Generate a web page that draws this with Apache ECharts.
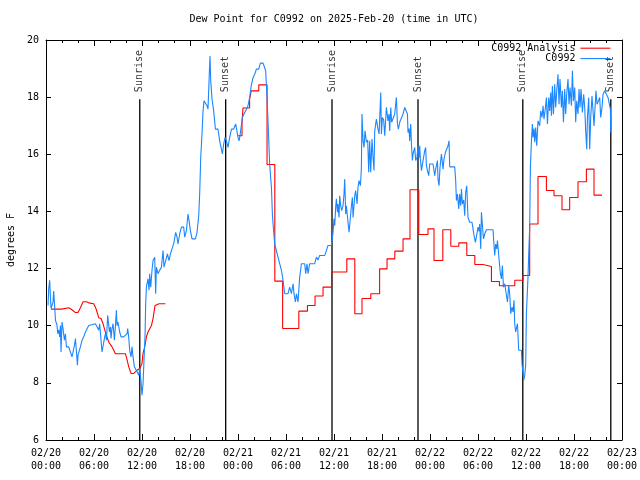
<!DOCTYPE html>
<html><head><meta charset="utf-8">
<script src="https://cdn.jsdelivr.net/npm/echarts@6/dist/echarts.min.js"></script>
<style>html,body{margin:0;padding:0;background:#fff}#c{width:640px;height:480px}</style>
</head><body><div id="c"></div>
<script>
const FONT = '"DejaVu Sans Mono", "Liberation Mono", monospace';
const titleText = 'Dew Point for C0992 on 2025-Feb-20 (time in UTC)';
const yName = 'degrees F';
const seriesNames = ['C0992 Analysis', 'C0992'];

// hours since 02/20 00:00 UTC, dew point (F) - observations
const obs0220 = [[0.25,10.71],[0.34,11.29],[0.46,11.59],[0.55,11.0],[0.63,10.6],[0.88,10.83],[0.96,11.21],[1.09,10.65],[1.18,10.19],[1.38,10.01],[1.46,9.72],[1.59,9.85],[1.71,9.61],[1.8,10.01],[1.88,9.08],[2.0,10.13],[2.13,9.9],[2.3,9.49],[2.43,9.72],[2.55,9.26],[2.84,9.26],[3.05,9.08],[3.25,8.91],[3.38,9.08],[3.59,9.37],[3.68,9.55],[3.88,9.55],[3.93,8.62],[4.0,8.97],[4.3,9.26],[4.5,9.49],[4.71,9.61],[4.93,9.78],[5.13,9.84],[5.34,10.01],[5.55,10.07],[6.18,10.07],[6.38,9.96],[6.59,9.84],[6.71,10.07],[6.88,10.07],[7.0,9.08],[7.21,9.08],[7.34,9.61],[7.46,9.75],[7.55,9.49],[7.71,10.36],[7.84,10.36],[7.93,9.78],[8.05,9.95],[8.13,9.55],[8.25,9.9],[8.38,10.07],[8.55,9.49],[8.68,10.0],[8.8,10.54],[8.88,10.0],[9.0,10.13],[9.21,9.78],[9.38,9.61],[9.71,9.61],[9.93,9.66],[10.13,9.72],[10.21,9.9],[10.34,9.6],[10.46,9.14],[10.63,8.91],[10.75,9.26],[10.88,8.91],[11.05,8.56],[11.21,8.5],[11.38,8.39],[11.5,8.44],[11.59,8.27],[11.71,8.5],[11.88,8.04],[12.0,7.57],[12.13,7.97],[12.25,8.79],[12.38,9.66],[12.46,10.77],[12.55,11.35],[12.75,11.64],[12.88,11.24],[12.96,11.82],[13.09,11.35],[13.25,11.94],[13.38,12.28],[13.59,12.4],[13.71,11.12],[13.8,12.05],[14.0,11.82],[14.21,11.94],[14.43,12.05],[14.63,12.63],[14.75,12.05],[14.96,12.28],[15.18,12.51],[15.38,12.28],[15.55,12.51],[15.75,12.69],[16.0,12.92],[16.21,13.27],[16.38,13.10],[16.5,12.86],[16.71,13.21],[16.93,13.45],[17.21,13.45],[17.34,13.10],[17.55,13.33],[17.75,13.91],[17.88,13.68],[18.05,13.33],[18.25,13.04],[18.68,13.04],[18.88,13.27],[19.09,13.85],[19.21,14.61],[19.34,15.89],[19.5,16.71],[19.63,17.52],[19.75,17.87],[19.96,17.87],[20.13,17.70],[20.25,17.58],[20.38,18.57],[20.5,19.44],[20.59,18.57],[20.75,17.93],[20.96,17.52],[21.18,16.88],[21.38,16.82],[21.5,16.88],[21.71,16.47],[21.88,16.24],[22.05,16.01],[22.21,16.36],[22.38,16.59],[22.55,16.47],[22.75,16.24],[22.96,16.59],[23.18,16.88],[23.46,16.88],[23.71,17.06],[23.84,17.0]];
const obs0221 = [[24.0,16.59],[24.13,16.47],[24.25,16.65],[24.43,16.71],[24.55,17.29],[24.75,17.41],[25.05,17.58],[25.25,17.70],[25.46,17.99],[25.68,18.45],[25.88,18.68],[26.09,18.80],[26.3,18.98],[26.59,18.98],[26.8,19.19],[27.13,19.19],[27.25,19.1],[27.46,18.92],[27.63,17.99],[27.8,16.82],[27.96,15.66],[28.05,15.31],[28.18,14.84],[28.3,13.91],[28.38,13.56],[28.59,12.86],[28.8,12.63],[29.0,12.40],[29.21,12.17],[29.43,11.94],[29.63,11.59],[29.84,11.12],[30.25,11.12],[30.46,11.35],[30.68,11.12],[30.88,11.47],[31.0,11.12],[31.18,10.83],[31.3,11.12],[31.5,10.83],[31.71,11.70],[31.93,12.17],[32.34,12.17],[32.46,11.82],[32.63,12.17],[32.75,11.82],[32.96,12.17],[33.59,12.17],[33.8,12.40],[34.0,12.3],[34.21,12.46],[34.84,12.46],[35.05,12.63],[35.25,12.81],[35.68,12.81],[35.88,13.27],[36.0,13.74],[36.09,13.5],[36.21,14.15],[36.3,14.44],[36.43,13.97],[36.5,14.26],[36.63,13.79],[36.71,14.55],[36.84,14.2],[36.96,14.03],[37.13,14.2],[37.25,14.61],[37.34,15.13],[37.46,13.91],[37.55,14.2],[37.75,13.62],[37.88,13.27],[38.05,13.27],[38.18,14.2],[38.3,14.49],[38.38,13.79],[38.5,14.2],[38.59,14.55],[38.71,14.73],[38.88,14.26],[39.0,14.84],[39.13,15.08],[39.3,14.9],[39.42,15.48],[39.5,17.41],[39.63,16.47],[39.75,16.24],[39.88,16.82],[40.05,16.42],[40.21,16.5],[40.34,15.37],[40.46,16.47],[40.59,15.37],[40.75,16.53],[40.88,15.89],[41.0,15.43],[41.09,16.82],[41.3,17.23],[41.46,16.94],[41.63,16.71],[41.71,17.23],[41.84,18.16],[41.93,16.71],[42.05,17.29],[42.21,17.2],[42.34,16.65],[42.55,17.64],[42.75,17.17],[42.88,17.41],[42.96,16.82],[43.09,17.64],[43.21,17.12],[43.38,17.12],[43.59,17.41],[43.8,17.99],[43.93,17.06],[44.05,16.88],[44.21,17.12],[44.43,17.12],[44.63,17.41],[44.84,17.64],[45.05,17.58],[45.18,17.41],[45.25,16.76],[45.38,16.9],[45.46,16.47],[45.59,17.06],[45.68,16.36],[45.8,15.78],[45.88,16.01],[46.09,16.24],[46.21,15.78],[46.38,15.9],[46.5,16.30],[46.63,15.89],[46.71,16.3],[46.8,15.83],[46.93,15.43],[47.13,15.78],[47.34,16.13],[47.46,16.24],[47.55,15.6],[47.68,15.43],[47.84,15.25],[47.96,15.66]];
const obs0222 = [[48.38,15.66],[48.5,15.43],[48.59,15.25],[48.71,15.48],[48.93,15.78],[49.0,15.13],[49.13,14.9],[49.25,15.54],[49.43,16.01],[49.55,15.7],[49.63,15.48],[49.75,15.83],[49.93,16.07],[50.18,16.07],[50.25,16.30],[50.38,16.47],[50.46,15.56],[51.09,15.56],[51.21,15.08],[51.3,14.38],[51.43,14.61],[51.59,14.09],[51.71,14.61],[51.84,14.2],[51.93,14.78],[52.05,14.26],[52.21,14.4],[52.34,13.85],[52.46,14.67],[52.59,14.9],[52.75,13.79],[52.96,13.62],[53.25,13.62],[53.38,13.39],[53.5,13.16],[53.68,12.92],[53.93,12.92],[54.0,13.45],[54.13,13.3],[54.21,13.56],[54.34,12.69],[54.43,13.97],[54.59,13.97],[54.68,13.04],[54.84,13.21],[55.05,13.36],[55.88,13.36],[55.96,12.98],[56.09,12.46],[56.21,12.86],[56.34,12.69],[56.43,12.98],[56.59,12.46],[56.68,12.17],[56.8,11.82],[56.93,11.64],[57.05,12.11],[57.18,11.35],[57.34,11.47],[57.55,11.41],[57.68,10.83],[57.84,11.41],[57.96,11.12],[58.09,10.42],[58.25,10.65],[58.38,10.48],[58.5,10.89],[58.59,10.07],[58.71,9.78],[58.93,10.07],[59.0,10.07],[59.09,9.14],[59.43,9.14],[59.5,8.67],[59.63,8.33],[59.71,8.09],[59.84,8.27],[59.96,8.62],[60.05,10.42],[60.18,10.48],[60.25,11.70],[60.34,12.51],[60.46,13.45],[60.55,15.54],[60.68,16.47],[60.8,17.06],[60.88,16.59],[61.0,16.9],[61.09,16.42],[61.21,16.94],[61.34,16.30],[61.5,17.17],[61.71,17.0],[61.84,17.52],[62.0,17.29],[62.13,17.70],[62.25,17.23],[62.43,17.64],[62.55,17.99],[62.68,17.06],[62.84,17.99],[62.96,17.52],[63.09,18.16],[63.18,17.35],[63.3,18.39],[63.43,17.4],[63.59,18.45],[63.71,17.64],[63.84,18.2],[64.0,18.80],[64.13,17.75],[64.25,18.63],[64.43,17.64],[64.55,18.22],[64.68,17.12],[64.84,18.28],[64.96,17.41],[65.09,18.1],[65.25,18.63],[65.38,17.75],[65.5,18.34],[65.68,17.70],[65.8,18.92],[65.93,17.87],[66.09,18.34],[66.21,17.12],[66.34,17.87],[66.5,17.41],[66.63,18.28],[66.75,17.64],[66.88,18.28],[67.05,17.46],[67.21,18.1],[67.34,17.64],[67.46,16.82],[67.59,16.18],[67.68,17.29],[67.84,17.99],[67.96,16.18],[68.09,17.3],[68.25,18.04],[68.38,17.52],[68.5,16.99],[68.63,17.64],[68.75,18.22],[68.88,17.75],[69.05,17.87],[69.21,17.99],[69.34,17.29],[69.5,17.64],[69.63,18.10],[69.84,18.22],[70.05,18.1],[70.25,17.99],[70.38,17.81],[70.55,17.58],[70.59,16.76],[70.63,17.3]];

// analysis (hourly model) - first run (smooth) and stepped run
const ana0220 = [[0.63,10.58],[2.0,10.58],[2.21,10.63],[2.84,10.63],[3.25,10.56],[3.68,10.46],[4.0,10.46],[4.3,10.63],[4.63,10.84],[5.05,10.84],[5.34,10.80],[5.96,10.77],[6.18,10.65],[6.38,10.48],[6.59,10.28],[6.88,10.25],[7.13,10.07],[7.3,9.90],[7.55,9.66],[7.84,9.43],[8.25,9.26],[8.68,9.02],[9.93,9.02],[10.13,8.81],[10.34,8.56],[10.63,8.33],[10.96,8.33],[11.38,8.44],[11.71,8.50],[12.0,8.68],[12.13,9.03],[12.34,9.26],[12.55,9.61],[12.75,9.78],[13.18,10.01],[13.38,10.25],[13.63,10.71],[14.13,10.77],[14.93,10.77]];
const ana0221 = [[24.0,16.65],[24.5,17.06],[24.62,17.62],[25.45,17.93],[25.65,18.22],[26.6,18.43],[27.63,15.64],[28.6,11.56],[29.58,9.9],[31.6,10.51],[32.68,10.71],[33.63,11.04],[34.63,11.35],[35.7,11.88],[37.6,12.34],[38.6,10.42],[39.5,10.95],[40.6,11.12],[41.7,11.99],[42.63,12.34],[43.6,12.61],[44.63,13.04],[45.5,14.76],[46.6,13.19],[47.75,13.39]];
const ana0222 = [[48.5,12.28],[49.6,13.36],[50.6,12.78],[51.6,12.90],[52.6,12.46],[53.6,12.14],[54.6,12.07],[55.68,11.55],[56.68,11.40],[58.6,11.59],[59.62,11.76],[60.46,13.56],[61.5,15.22],[62.55,14.73],[63.5,14.55],[64.5,14.06],[65.46,14.49],[66.5,15.04],[67.55,15.48],[68.5,14.57],[69.5,14.57]];

// sunrise / sunset markers (hours since 02/20 00:00)
const eventHours = [11.72, 22.46, 35.75, 46.5, 59.6, 70.6];
const eventNames = ['Sunrise', 'Sunset', 'Sunrise', 'Sunset', 'Sunrise', 'Sunset'];
const eventLow = 6, eventHigh = 17.93;

function fmtX(v) {
  const d = 20 + Math.floor(v / 24);
  const h = Math.round(v % 24);
  return '02/' + d + '\n' + String(h).padStart(2, '0') + ':00';
}

const chart = echarts.init(document.getElementById('c'), null, {renderer: 'canvas'});
const black = '#000';
const red = '#ff0000';
const blue = '#1a86ff';
const axisCommon = {
  axisLine: {show: true, onZero: false, lineStyle: {color: black, width: 1}},
  splitLine: {show: false}
};
const series = [];
eventHours.forEach((h) => {
  series.push({
    type: 'line', silent: true, symbol: 'none', showSymbol: false,
    data: [[h, eventLow], [h, eventHigh]],
    lineStyle: {color: black, width: 1.3}, z: 1
  });
});
series.push({
  type: 'scatter', silent: true, symbolSize: 0, z: 1,
  data: eventHours.map((h, i) => ({value: [h, eventHigh], name: eventNames[i]})),
  label: {show: true, formatter: '{b}', rotate: 90, position: 'top', distance: 7,
    align: 'left', verticalAlign: 'middle', color: black, fontFamily: FONT, fontSize: 10}
});
series.push({
  name: seriesNames[0], type: 'line', symbol: 'none', showSymbol: false, z: 3,
  data: ana0220, lineStyle: {color: red, width: 1.1}, itemStyle: {color: red}
});
series.push({
  name: seriesNames[0], type: 'line', step: 'end', symbol: 'none', showSymbol: false, z: 3,
  data: ana0221.concat(ana0222), lineStyle: {color: red, width: 1.1}, itemStyle: {color: red}
});
series.push({
  name: seriesNames[1], type: 'line', symbol: 'none', showSymbol: false, z: 4,
  data: obs0220.concat(obs0221, obs0222), lineStyle: {color: blue, width: 1.1}, itemStyle: {color: blue}
});

chart.setOption({
  animation: false,
  backgroundColor: '#fff',
  title: {text: titleText, left: 334, top: 14, textAlign: 'center', padding: 0,
    textStyle: {fontFamily: FONT, fontSize: 10, fontWeight: 'normal', color: black}},
  legend: {
    data: seriesNames, orient: 'vertical', right: 29, top: 43, padding: 0,
    align: 'right', itemWidth: 30, itemHeight: 13, itemGap: 0,
    itemStyle: {opacity: 0, borderWidth: 0},
    lineStyle: {width: 1.1},
    textStyle: {fontFamily: FONT, fontSize: 10, color: black, width: 86, align: 'right'}
  },
  grid: {left: 46, right: 18, top: 40, bottom: 40, containLabel: false, outerBoundsMode: 'none'},
  xAxis: [
    Object.assign({type: 'value', min: 0, max: 72, interval: 6, position: 'bottom',
      axisTick: {show: true, inside: true, length: 6, lineStyle: {color: black}},
      minorTick: {show: true, splitNumber: 3, length: 3, lineStyle: {color: black}},
      axisLabel: {formatter: fmtX, color: black, fontFamily: FONT, fontSize: 10, margin: 7, lineHeight: 13}
    }, axisCommon),
    Object.assign({type: 'value', min: 0, max: 72, interval: 6, position: 'top',
      axisTick: {show: true, inside: true, length: 6, lineStyle: {color: black}},
      minorTick: {show: true, splitNumber: 3, length: 3, lineStyle: {color: black}},
      axisLabel: {show: false}
    }, axisCommon)
  ],
  yAxis: [
    Object.assign({type: 'value', min: 6, max: 20, interval: 2, position: 'left',
      axisTick: {show: true, inside: true, length: 5, lineStyle: {color: black}},
      axisLabel: {color: black, fontFamily: FONT, fontSize: 10, margin: 7},
      name: yName, nameLocation: 'middle', nameGap: 30,
      nameTextStyle: {color: black, fontFamily: FONT, fontSize: 10}
    }, axisCommon),
    Object.assign({type: 'value', min: 6, max: 20, interval: 2, position: 'right',
      axisTick: {show: true, inside: true, length: 5, lineStyle: {color: black}},
      axisLabel: {show: false}
    }, axisCommon)
  ],
  series: series
});
</script>
</body></html>
